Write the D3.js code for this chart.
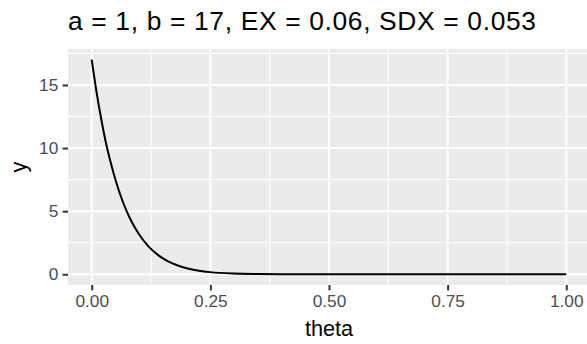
<!DOCTYPE html>
<html>
<head>
<meta charset="utf-8">
<script src="https://cdn.jsdelivr.net/npm/d3@7"></script>
<style>
  body { margin: 0; background: #fff; }
  text { font-family: "Liberation Sans", Arial, sans-serif; }
</style>
</head>
<body>
<div id="chart"></div>
<script>
// values
const thetaValues = [0, 0.01, 0.02, 0.03, 0.04, 0.05, 0.06, 0.07, 0.08, 0.09, 0.10,
  0.12, 0.14, 0.16, 0.18, 0.20, 0.22, 0.25, 0.30, 0.35, 0.40, 0.50, 0.60, 0.70, 0.80, 0.90, 1.00];
const yValues = [17, 14.47, 12.3, 10.4, 8.85, 7.49, 6.32, 5.33, 4.48, 3.76, 3.15,
  2.19, 1.52, 1.04, 0.71, 0.48, 0.32, 0.17, 0.056, 0.018, 0.005, 0.0003, 0, 0, 0, 0, 0];
const xTicks = [0, 0.25, 0.5, 0.75, 1];
const xTickLabels = ["0.00", "0.25", "0.50", "0.75", "1.00"];
const yTicks = [0, 5, 10, 15];
const titleText = "a = 1, b = 17, EX = 0.06, SDX = 0.053";

const width = 587, height = 344;
// panel spans past the right edge (picture is cropped there)
const margin = { top: 49, right: -3, bottom: 59, left: 68 };

const svg = d3.select("#chart").append("svg")
  .attr("width", width)
  .attr("height", height);

const x = d3.scaleLinear().domain([-0.05, 1.05]).range([margin.left, width - margin.right]);
const y = d3.scaleLinear().domain([-0.85, 17.85]).range([height - margin.bottom, margin.top]);

//Grey panel
svg.append("rect")
  .attr("x", margin.left)
  .attr("y", margin.top)
  .attr("width", width - margin.right - margin.left)
  .attr("height", height - margin.bottom - margin.top)
  .attr("fill", "#ebebeb");

//Minor grid lines
const xMinor = [0.125, 0.375, 0.625, 0.875];
const yMinor = [2.5, 7.5, 12.5, 17.5];
svg.selectAll(".xminor").data(xMinor).enter().append("line")
  .attr("x1", d => x(d)).attr("x2", d => x(d))
  .attr("y1", margin.top).attr("y2", height - margin.bottom)
  .attr("stroke", "#fff").attr("stroke-width", 1);
svg.selectAll(".yminor").data(yMinor).enter().append("line")
  .attr("x1", margin.left).attr("x2", width - margin.right)
  .attr("y1", d => y(d)).attr("y2", d => y(d))
  .attr("stroke", "#fff").attr("stroke-width", 1);

//Major grid lines
svg.selectAll(".xmajor").data(xTicks).enter().append("line")
  .attr("x1", d => x(d)).attr("x2", d => x(d))
  .attr("y1", margin.top).attr("y2", height - margin.bottom)
  .attr("stroke", "#fff").attr("stroke-width", 2);
svg.selectAll(".ymajor").data(yTicks).enter().append("line")
  .attr("x1", margin.left).attr("x2", width - margin.right)
  .attr("y1", d => y(d)).attr("y2", d => y(d))
  .attr("stroke", "#fff").attr("stroke-width", 2);

//The density curve
const line = d3.line()
  .x((d, i) => x(thetaValues[i]))
  .y(d => y(d))
  .curve(d3.curveMonotoneX);
svg.append("path")
  .datum(yValues)
  .attr("d", line)
  .attr("fill", "none")
  .attr("stroke", "#000")
  .attr("stroke-width", 2);

//Axes
const xAxis = svg.append("g")
  .attr("transform", "translate(0," + (height - margin.bottom) + ")")
  .call(d3.axisBottom(x).tickValues(xTicks).tickFormat((d, i) => xTickLabels[i]).tickSize(5.4).tickPadding(4.3));
const yAxis = svg.append("g")
  .attr("transform", "translate(" + margin.left + ",0)")
  .call(d3.axisLeft(y).tickValues(yTicks).tickSize(5.4).tickPadding(4.3));

[xAxis, yAxis].forEach(a => {
  a.select(".domain").remove();
  a.selectAll(".tick line").attr("stroke", "#333").attr("stroke-width", 2);
  a.selectAll(".tick text")
    .attr("fill", "#4d4d4d")
    .style("font-size", "17.3px")
    .style("font-family", "Liberation Sans, Arial, sans-serif");
});

//Axis titles
svg.append("text")
  .attr("x", (margin.left + width - margin.right) / 2)
  .attr("y", 335.5)
  .attr("text-anchor", "middle")
  .style("font-size", "21.7px")
  .text("theta");
svg.append("text")
  .attr("transform", "translate(25.5," + (margin.top + height - margin.bottom) / 2 + ") rotate(-90)")
  .attr("text-anchor", "middle")
  .style("font-size", "21.7px")
  .text("y");

//Title (stretched a little to the width it has in the reference)
svg.append("text")
  .attr("x", margin.left)
  .attr("y", 29.5)
  .attr("textLength", 468)
  .attr("lengthAdjust", "spacing")
  .style("font-size", "26.4px")
  .text(titleText);
</script>
</body>
</html>
